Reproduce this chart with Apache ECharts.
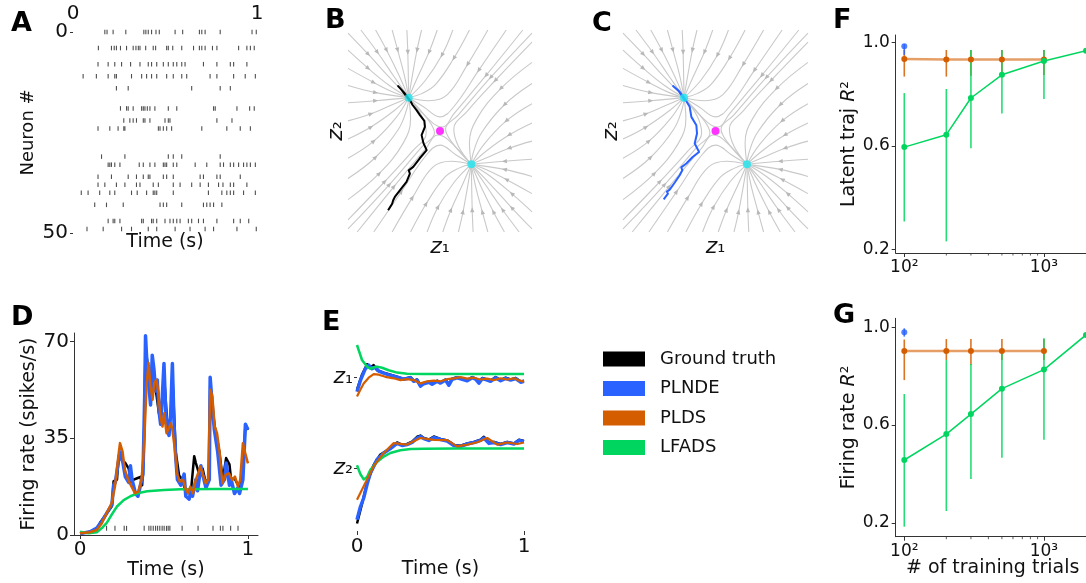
<!DOCTYPE html>
<html>
<head>
<meta charset="utf-8">
<script src="https://cdn.jsdelivr.net/npm/echarts@6/dist/echarts.min.js"></script>
<style>
  html, body { margin: 0; padding: 0; background: #fff; }
  #chart { width: 1086px; height: 583px; }
</style>
</head>
<body>
<div id="chart"></div>
<script>
const FONT = 'DejaVu Sans';
const BLACK = '#000000', BLUE = '#2962ff', ORANGE = '#d45d00', GREEN = '#00d65f';

// ---- A: spike raster
const rasterNeurons = [0, 4, 8, 11, 14, 19, 22, 24, 31, 33, 36, 38, 40, 43, 47, 49];
const rasterTimes = [
  [.173,.185,.218,.287,.385,.396,.409,.427,.451,.469,.555,.596,.687,.7,.718,.8,.973,.996],
  [.138,.209,.224,.236,.258,.291,.327,.342,.355,.364,.395,.436,.449,.509,.518,.542,.591,.655,.687,.7,.718,.758,.782,.9,.945,.964,.985],
  [.136,.191,.227,.264,.313,.364,.409,.427,.455,.491,.518,.545,.564,.591,.609,.709,.782,.855,.873,.945],
  [.055,.127,.191,.227,.236,.318,.373,.4,.427,.455,.509,.545,.591,.618,.745,.782,.873,.936,.991],
  [.236,.3,.645,.8,.855],
  [.258,.291,.3,.327,.373,.382,.391,.404,.418,.445,.518,.564,.764,.773,.891,.96,.985],
  [.276,.309,.327,.345,.382,.391,.418,.5,.518,.527,.782,.864],
  [.136,.2,.245,.276,.282,.464,.473,.491,.509,.536,.7,.836,.909,.964],
  [.155,.282,.518,.545,.591,.8],
  [.191,.2,.209,.227,.255,.36,.382,.418,.445,.491,.5,.509,.545,.564,.664,.727,.8,.818,.855,.873,.9,.927,.945,.964,.991],
  [.136,.209,.3,.345,.382,.409,.418,.491,.509,.545,.691,.709,.782,.8,.909],
  [.136,.173,.236,.282,.345,.364,.436,.464,.545,.582,.645,.691,.736,.791,.815,.855,.873,.945],
  [.045,.082,.145,.2,.227,.318,.349,.4,.436,.445,.455,.545,.736,.809,.836,.855,.873,.927,.991],
  [.118,.182,.273,.473,.491,.509,.591,.709,.727,.745,.764,.809],
  [.191,.218,.227,.255,.373,.382,.427,.436,.455,.5,.527,.545,.564,.582,.627,.645,.682,.709,.782,.873,.909,.955],
  [.076,.164,.264,.318,.409,.455,.555,.636,.718,.764,.891,.996]
];

// ---- B / C: phase portrait (streamlines)
const streamsToUpper = [
  [[-1,0.97],[-0.78,0.76],[-0.55,0.53],[-0.34,0.33]],
  [[-0.86,1],[-0.68,0.78],[-0.5,0.54],[-0.34,0.33]],
  [[-0.7,1],[-0.58,0.8],[-0.45,0.56],[-0.34,0.33]],
  [[-0.52,1],[-0.46,0.8],[-0.39,0.56],[-0.34,0.33]],
  [[-0.36,1],[-0.35,0.78],[-0.34,0.33]],
  [[-0.2,1],[-0.25,0.8],[-0.3,0.55],[-0.34,0.33]],
  [[-0.03,1],[-0.12,0.78],[-0.25,0.52],[-0.34,0.33]],
  [[0.14,1],[0.02,0.75],[-0.16,0.5],[-0.34,0.33]],
  [[0.32,1],[0.15,0.72],[-0.05,0.46],[-0.2,0.37],[-0.34,0.33]],
  [[0.52,1],[0.3,0.66],[0.08,0.36],[-0.12,0.3],[-0.34,0.33]],
  [[0.72,1],[0.42,0.6],[0.15,0.24],[0,0.14],[-0.18,0.24],[-0.34,0.33]],
  [[0.9,1],[0.5,0.55],[0.15,0.17],[0.03,0.04],[-0.08,0.08],[-0.34,0.33]],
  [[-1,0.8],[-0.78,0.62],[-0.55,0.45],[-0.34,0.33]],
  [[-1,0.62],[-0.72,0.48],[-0.5,0.38],[-0.34,0.33]],
  [[-1,0.45],[-0.7,0.38],[-0.34,0.33]],
  [[-1,0.28],[-0.7,0.3],[-0.34,0.33]],
  [[-1,0.1],[-0.75,0.17],[-0.52,0.26],[-0.34,0.33]],
  [[-1,-0.08],[-0.75,0.04],[-0.5,0.2],[-0.34,0.33]],
  [[-1,-0.27],[-0.72,-0.1],[-0.48,0.13],[-0.34,0.33]],
  [[-1,-0.47],[-0.7,-0.26],[-0.45,0.02],[-0.36,0.22],[-0.34,0.33]],
  [[-1,-0.68],[-0.66,-0.42],[-0.4,-0.12],[-0.32,0.12],[-0.34,0.33]],
  [[-1,-0.88],[-0.6,-0.5],[-0.3,-0.2],[-0.15,-0.02],[-0.2,0.15],[-0.34,0.33]],
  [[-1,-0.97],[-0.55,-0.53],[-0.2,-0.16],[-0.06,-0.02],[-0.12,0.1],[-0.34,0.33]]
];
const streamsToLower = [
  [[1,-0.97],[0.78,-0.76],[0.55,-0.53],[0.34,-0.33]],
  [[0.86,-1],[0.68,-0.78],[0.5,-0.54],[0.34,-0.33]],
  [[0.7,-1],[0.58,-0.8],[0.45,-0.56],[0.34,-0.33]],
  [[0.52,-1],[0.46,-0.8],[0.39,-0.56],[0.34,-0.33]],
  [[0.36,-1],[0.35,-0.78],[0.34,-0.33]],
  [[0.2,-1],[0.25,-0.8],[0.3,-0.55],[0.34,-0.33]],
  [[0.03,-1],[0.12,-0.78],[0.25,-0.52],[0.34,-0.33]],
  [[-0.14,-1],[-0.02,-0.75],[0.16,-0.5],[0.34,-0.33]],
  [[-0.32,-1],[-0.15,-0.72],[0.05,-0.46],[0.2,-0.37],[0.34,-0.33]],
  [[-0.52,-1],[-0.3,-0.66],[-0.08,-0.36],[0.12,-0.3],[0.34,-0.33]],
  [[-0.72,-1],[-0.42,-0.6],[-0.15,-0.24],[0,-0.14],[0.18,-0.24],[0.34,-0.33]],
  [[-0.9,-1],[-0.5,-0.55],[-0.15,-0.17],[-0.03,-0.04],[0.08,-0.08],[0.34,-0.33]],
  [[1,-0.8],[0.78,-0.62],[0.55,-0.45],[0.34,-0.33]],
  [[1,-0.62],[0.72,-0.48],[0.5,-0.38],[0.34,-0.33]],
  [[1,-0.45],[0.7,-0.38],[0.34,-0.33]],
  [[1,-0.28],[0.7,-0.3],[0.34,-0.33]],
  [[1,-0.1],[0.75,-0.17],[0.52,-0.26],[0.34,-0.33]],
  [[1,0.08],[0.75,-0.04],[0.5,-0.2],[0.34,-0.33]],
  [[1,0.27],[0.72,0.1],[0.48,-0.13],[0.34,-0.33]],
  [[1,0.47],[0.7,0.26],[0.45,-0.02],[0.36,-0.22],[0.34,-0.33]],
  [[1,0.68],[0.66,0.42],[0.4,0.12],[0.32,-0.12],[0.34,-0.33]],
  [[1,0.88],[0.6,0.5],[0.3,0.2],[0.15,0.02],[0.2,-0.15],[0.34,-0.33]],
  [[1,0.97],[0.55,0.53],[0.2,0.16],[0.06,0.02],[0.12,-0.1],[0.34,-0.33]]
];
const stablePoints = [[-0.34, 0.33], [0.34, -0.33]];
const saddlePoints = [[0, 0]];
const trajTruth = [[-0.564,-0.785],[-0.52,-0.72],[-0.509,-0.686],[-0.53,-0.67],[-0.491,-0.653],[-0.43,-0.58],[-0.364,-0.504],[-0.327,-0.421],[-0.34,-0.39],[-0.291,-0.355],[-0.22,-0.27],[-0.145,-0.19],[-0.18,-0.12],[-0.2,-0.041],[-0.164,0.041],[-0.17,0.1],[-0.22,0.16],[-0.255,0.207],[-0.3,0.26],[-0.327,0.306],[-0.39,0.38],[-0.455,0.445],[-0.42,0.41],[-0.33,0.3]];
const trajPlnde = [[-0.56,-0.676],[-0.53,-0.64],[-0.514,-0.62],[-0.525,-0.6],[-0.495,-0.58],[-0.44,-0.51],[-0.387,-0.438],[-0.359,-0.388],[-0.37,-0.36],[-0.315,-0.322],[-0.25,-0.26],[-0.178,-0.207],[-0.225,-0.124],[-0.2,-0.025],[-0.207,0.058],[-0.261,0.14],[-0.279,0.24],[-0.333,0.322],[-0.387,0.388],[-0.459,0.445],[-0.4,0.4],[-0.33,0.3]];

// ---- D: firing rate of one neuron
const rateTruth = [[0,0.5],[0.06,1.2],[0.1,2],[0.12,4.5],[0.15,7],[0.19,10.5],[0.2,19.5],[0.22,20],[0.23,28.5],[0.25,27],[0.27,26],[0.29,24],[0.3,19],[0.32,20],[0.34,20.5],[0.36,21],[0.37,18],[0.38,30],[0.39,68],[0.41,58],[0.42,50],[0.43,62],[0.45,53],[0.47,44],[0.49,48],[0.5,58],[0.52,40],[0.54,42],[0.55,58],[0.57,30],[0.59,21.5],[0.61,20],[0.63,15],[0.66,15.5],[0.68,28.5],[0.69,26],[0.71,22],[0.73,24],[0.75,18.5],[0.77,21],[0.775,54],[0.8,40],[0.83,30],[0.85,20],[0.87,27.8],[0.89,25.5],[0.9,20],[0.92,20.5],[0.95,17],[0.97,22],[0.985,39.8],[1,38]];
const ratePlnde = [[0,0.5],[0.06,1.2],[0.1,2.5],[0.13,5],[0.16,8],[0.19,11],[0.2,18],[0.21,19],[0.23,27],[0.24,30],[0.25,28],[0.27,21],[0.29,19],[0.3,25],[0.31,20],[0.33,15],[0.345,14],[0.36,18],[0.375,22],[0.385,50],[0.39,72],[0.4,60],[0.41,54],[0.42,47],[0.425,55],[0.43,65],[0.44,60],[0.45,52],[0.46,56],[0.47,45],[0.48,40],[0.49,50],[0.5,62],[0.51,45],[0.52,38],[0.53,36],[0.54,44],[0.55,62],[0.56,40],[0.57,28],[0.58,20],[0.6,18],[0.62,22],[0.63,14],[0.65,13],[0.66,16],[0.67,14],[0.69,20],[0.7,16],[0.72,25],[0.73,22],[0.75,17],[0.77,20],[0.775,57],[0.79,45],[0.8,38],[0.82,30],[0.84,18],[0.86,20],[0.87,26],[0.89,18],[0.9,20],[0.92,15],[0.94,17],[0.95,15],[0.97,20],[0.985,40],[1,38]];
const ratePlds = [[0,0.6],[0.059,1],[0.099,1.8],[0.129,4.2],[0.158,7.8],[0.188,11.5],[0.208,17.5],[0.228,28.4],[0.238,33.2],[0.253,30.2],[0.267,23.5],[0.287,19.9],[0.307,17.5],[0.327,15.1],[0.347,15.7],[0.366,19.9],[0.376,27.2],[0.386,39.2],[0.396,53.7],[0.408,62.2],[0.42,53.7],[0.432,48.9],[0.442,54.9],[0.455,56.1],[0.467,51.3],[0.479,42.8],[0.491,39.2],[0.501,44],[0.515,36.8],[0.529,38.6],[0.541,40.4],[0.55,38],[0.564,31.4],[0.578,22.3],[0.594,19.3],[0.614,19.9],[0.63,16.3],[0.644,15.1],[0.657,17.5],[0.673,15.1],[0.689,19.9],[0.703,22.3],[0.717,24.7],[0.729,22.3],[0.749,18.7],[0.762,19.9],[0.776,52.5],[0.788,50.1],[0.802,39.2],[0.816,36.8],[0.832,29.6],[0.848,18.7],[0.867,21.7],[0.887,22.3],[0.907,19.9],[0.923,21.1],[0.941,17.5],[0.954,19.9],[0.97,33.2],[0.984,29.6],[1,25.9]];
const rateLfads = [[0,1.2],[0.05,0.6],[0.1,1],[0.13,2.5],[0.16,4.5],[0.19,7.5],[0.22,10.3],[0.26,12.6],[0.3,14],[0.35,15.2],[0.4,15.8],[0.5,16.3],[0.6,16.5],[0.8,16.6],[1,16.6]];
const neuronSpikeTimes = [.158,.208,.263,.277,.382,.41,.422,.436,.45,.462,.475,.489,.501,.515,.525,.535,.608,.703,.792,.836,.851,.897,.941];

// ---- E: latent trajectories
const z1Truth = [[0,-0.4],[0.03,0.1],[0.06,0.45],[0.08,0.35],[0.1,0.42],[0.12,0.25],[0.16,0.17],[0.2,0.1],[0.24,0.03],[0.28,-0.04],[0.32,0.02],[0.34,-0.1],[0.36,-0.06],[0.38,-0.26],[0.4,-0.18],[0.43,-0.13],[0.45,-0.2],[0.48,-0.1],[0.5,-0.16],[0.53,-0.06],[0.55,-0.22],[0.57,-0.03],[0.6,0.02],[0.63,-0.03],[0.66,-0.08],[0.69,0.02],[0.71,-0.03],[0.73,-0.16],[0.75,-0.01],[0.78,-0.06],[0.8,-0.1],[0.83,0.02],[0.86,-0.08],[0.89,0],[0.92,-0.06],[0.95,-0.01],[0.98,-0.13],[1,-0.1]];
const z1Plnde = [[0,-0.47],[0.02,-0.1],[0.05,0.3],[0.07,0.42],[0.09,0.3],[0.11,0.35],[0.13,0.22],[0.16,0.15],[0.2,0.08],[0.24,0.02],[0.28,-0.05],[0.32,0],[0.34,-0.12],[0.36,-0.08],[0.38,-0.28],[0.4,-0.2],[0.43,-0.15],[0.45,-0.22],[0.48,-0.12],[0.5,-0.18],[0.53,-0.08],[0.55,-0.25],[0.57,-0.05],[0.6,0],[0.63,-0.05],[0.66,-0.1],[0.69,0],[0.71,-0.05],[0.73,-0.18],[0.75,-0.03],[0.78,-0.08],[0.8,-0.12],[0.83,0],[0.86,-0.1],[0.89,-0.02],[0.92,-0.08],[0.95,-0.03],[0.98,-0.15],[1,-0.12]];
const z1Plds = [[0,-0.63],[0.02,-0.4],[0.04,-0.19],[0.07,0],[0.1,0.12],[0.13,0.1],[0.17,0.03],[0.22,-0.02],[0.26,-0.08],[0.3,-0.05],[0.34,-0.08],[0.38,-0.19],[0.42,-0.12],[0.46,-0.1],[0.5,-0.12],[0.54,-0.05],[0.58,-0.02],[0.62,0.02],[0.66,-0.03],[0.7,0],[0.74,-0.06],[0.78,-0.03],[0.82,-0.08],[0.86,-0.02],[0.9,-0.06],[0.94,-0.02],[0.97,-0.09],[1,-0.13]];
const z1Lfads = [[0,1.09],[0.03,0.59],[0.06,0.37],[0.08,0.3],[0.1,0.34],[0.12,0.37],[0.15,0.33],[0.19,0.25],[0.24,0.17],[0.3,0.13],[0.4,0.12],[0.6,0.12],[1,0.12]];
const z2Truth = [[0,-1.85],[0.03,-1.2],[0.06,-0.5],[0.1,0.1],[0.14,0.45],[0.2,0.65],[0.24,0.85],[0.27,0.77],[0.3,0.8],[0.33,0.88],[0.36,1.04],[0.38,1.08],[0.4,1],[0.43,0.95],[0.46,1.05],[0.5,0.97],[0.54,0.92],[0.58,0.77],[0.62,0.74],[0.66,0.82],[0.7,0.87],[0.74,0.94],[0.76,1.04],[0.79,0.84],[0.82,0.87],[0.86,0.8],[0.9,0.87],[0.94,0.82],[0.97,0.94],[1,0.9]];
const z2Plnde = [[0,-1.72],[0.02,-1.3],[0.04,-1],[0.06,-0.55],[0.08,-0.17],[0.12,0.28],[0.16,0.5],[0.2,0.65],[0.24,0.82],[0.27,0.75],[0.3,0.78],[0.33,0.85],[0.36,1],[0.38,1.05],[0.4,0.98],[0.43,0.92],[0.46,1.02],[0.5,0.95],[0.54,0.9],[0.58,0.75],[0.62,0.72],[0.66,0.8],[0.7,0.85],[0.74,0.92],[0.76,1],[0.79,0.82],[0.82,0.85],[0.86,0.78],[0.9,0.85],[0.94,0.8],[0.97,0.92],[1,0.88]];
const z2Plds = [[0,-1.06],[0.04,-0.61],[0.1,0.06],[0.16,0.5],[0.22,0.83],[0.3,0.78],[0.38,1],[0.46,0.94],[0.54,0.93],[0.6,0.72],[0.66,0.78],[0.72,0.86],[0.78,1],[0.84,0.78],[0.9,0.85],[0.96,0.8],[1,0.85]];
const z2Lfads = [[0,0.09],[0.02,-0.2],[0.04,-0.38],[0.06,-0.3],[0.08,-0.06],[0.12,0.2],[0.16,0.38],[0.2,0.5],[0.26,0.59],[0.32,0.63],[0.4,0.64],[0.6,0.65],[1,0.65]];

// ---- F / G: R^2 vs number of training trials
const trials = [100, 200, 300, 500, 1000];
const lfadsTrials = [100, 200, 300, 500, 1000, 2000];
const minorTrials = [200, 300, 400, 500, 600, 700, 800, 900];
const latentPlds = [0.937, 0.935, 0.935, 0.935, 0.935];
const latentPldsLo = [0.869, 0.869, 0.872, 0.875, 0.875];
const latentPldsHi = [0.972, 0.972, 0.972, 0.972, 0.972];
const latentPlnde = [0.986], latentPlndeLo = [0.953], latentPlndeHi = [0.995];
const latentLfads = [0.596, 0.644, 0.786, 0.876, 0.929, 0.969];
const latentLfadsLo = [0.308, 0.231, 0.592, 0.726, 0.782];
const latentLfadsHi = [0.805, 0.821, 0.972, 0.972, 0.972];
const ratePldsR2 = [0.903, 0.903, 0.903, 0.903, 0.903];
const ratePldsLo = [0.784, 0.866, 0.846, 0.866, 0.866];
const ratePldsHi = [0.95, 0.952, 0.952, 0.952, 0.952];
const ratePlndeR2 = [0.98], ratePlndeLo = [0.962], ratePlndeHi = [0.996];
const rateLfadsR2 = [0.457, 0.563, 0.645, 0.749, 0.827, 0.969];
const rateLfadsLo = [0.184, 0.248, 0.379, 0.466, 0.54];
const rateLfadsHi = [0.727, 0.866, 0.85, 0.907, 0.955];

const chart = echarts.init(document.getElementById('chart'));

const tickText = { color: '#111', fontFamily: FONT, fontSize: 20 };
const smallTick = { color: '#111', fontFamily: FONT, fontSize: 17 };
const nameText = { color: '#111', fontFamily: FONT, fontSize: 19 };
const zRich = { z: { fontFamily: FONT, fontSize: 22, fontStyle: 'italic', color: '#111' },
                n: { fontFamily: FONT, fontSize: 20, color: '#111' } };
const spine = { onZero: false, lineStyle: { color: '#333', width: 1 } };
const noAxis = { axisLine: { show: false, onZero: false }, axisTick: { show: false }, axisLabel: { show: false }, splitLine: { show: false } };

function pairs(xs, ys) { return ys.map((y, i) => [xs[i], y]); }
function triples(xs, lo, hi) { return lo.map((l, i) => [xs[i], l, hi[i]]); }

function lineSeries(name, data, color, width, xi, yi, z) {
  return { name: name, type: 'line', xAxisIndex: xi, yAxisIndex: yi, data: data,
    showSymbol: false, symbol: 'none', z: z, color: color,
    lineStyle: { color: color, width: width, join: 'round' } };
}

function streamSeries(lines, xi, yi) {
  return lines.map(pts => ({ type: 'line', xAxisIndex: xi, yAxisIndex: yi, data: pts,
    smooth: 0.4, showSymbol: false, symbol: 'none', silent: true, z: 1,
    lineStyle: { color: '#c9c9c9', width: 1.1 } }));
}

// small arrowhead on each streamline, at its second point, along the local direction
function arrowSeries(lines, xi, yi) {
  return { type: 'custom', xAxisIndex: xi, yAxisIndex: yi, silent: true, z: 2,
    data: lines.map(p => [p[1][0], p[1][1], p[0][0], p[0][1], p[2][0], p[2][1]]),
    encode: { x: 0, y: 1 },
    renderItem: function (params, api) {
      const p = api.coord([api.value(0), api.value(1)]);
      const a = api.coord([api.value(2), api.value(3)]);
      const b = api.coord([api.value(4), api.value(5)]);
      const ang = Math.atan2(b[1] - a[1], b[0] - a[0]);
      const c = Math.cos(ang), s = Math.sin(ang), L = 5, W = 2.2;
      return { type: 'polygon', shape: { points: [
          [p[0] + c * L / 2, p[1] + s * L / 2],
          [p[0] - c * L / 2 - s * W, p[1] - s * L / 2 + c * W],
          [p[0] - c * L / 2 + s * W, p[1] - s * L / 2 - c * W]] },
        style: { fill: '#b8b8b8' } };
    } };
}

function errSeries(data, color, xi, yi) {
  return { type: 'custom', xAxisIndex: xi, yAxisIndex: yi, data: data, z: 2, silent: true,
    encode: { x: 0, y: [1, 2] },
    renderItem: function (params, api) {
      const a = api.coord([api.value(0), api.value(1)]);
      const b = api.coord([api.value(0), api.value(2)]);
      return { type: 'line', shape: { x1: a[0], y1: a[1], x2: b[0], y2: b[1] },
        style: { stroke: color, lineWidth: 1.6, opacity: 0.85 } };
    } };
}

function minorTickSeries(xi, yi) {
  return { type: 'custom', xAxisIndex: xi, yAxisIndex: yi, clip: false, silent: true,
    data: minorTrials.map(v => [v, 0.5]), encode: { x: 0, y: 1 },
    renderItem: function (params, api) {
      const x = api.coord([api.value(0), api.value(1)])[0];
      const y = params.coordSys.y + params.coordSys.height;
      return { type: 'line', shape: { x1: x, y1: y, x2: x, y2: y + 2.5 },
        style: { stroke: '#333', lineWidth: 0.8 } };
    } };
}

const rasterData = [];
rasterTimes.forEach((ts, i) => ts.forEach(t => rasterData.push([t, rasterNeurons[i]])));

function r2Axis(grid, min, max, label) {
  return { gridIndex: grid, type: 'value', min: min, max: max,
    axisLine: { show: true, onZero: false, lineStyle: { color: '#333', width: 1 } },
    axisTick: { show: true, length: 4, customValues: [0.2, 0.6, 1.0], lineStyle: { color: '#333' } },
    axisLabel: Object.assign({}, smallTick, { customValues: [0.2, 0.6, 1.0], margin: 6,
      formatter: v => v.toFixed(1) }),
    splitLine: { show: false },
    name: label, nameLocation: 'middle', nameGap: 32, nameRotate: 90,
    nameTextStyle: Object.assign({}, nameText, {
      rich: { r: { fontFamily: FONT, fontSize: 19, fontStyle: 'italic', color: '#111' } } }) };
}

function trialsAxis(grid) {
  return { gridIndex: grid, type: 'log', logBase: 10, min: 86.8, max: 2000,
    axisLine: { show: true, onZero: false, lineStyle: { color: '#333', width: 1 } },
    axisTick: { show: true, length: 4, customValues: [100, 1000], lineStyle: { color: '#333' } },
    axisLabel: Object.assign({}, smallTick, { customValues: [100, 1000], margin: 6,
      formatter: v => (v < 500 ? '10²' : '10³') }),
    splitLine: { show: false }, minorTick: { show: false } };
}

const option = {
  animation: false,
  backgroundColor: '#fff',
  textStyle: { fontFamily: FONT },
  legend: {
    data: ['Ground truth', 'PLNDE', 'PLDS', 'LFADS'],
    orient: 'vertical', left: 603, top: 350, padding: 0,
    itemWidth: 42, itemHeight: 15, itemGap: 11.5, icon: 'rect',
    selectedMode: false,
    textStyle: { fontFamily: FONT, fontSize: 18, color: '#111', padding: [0, 0, 0, 10] }
  },
  grid: [
    { left: 73, top: 32, width: 184, height: 201 },
    { left: 348, top: 30, width: 184, height: 202 },
    { left: 623, top: 30, width: 185, height: 202 },
    { left: 74, top: 333, width: 184, height: 202 },
    { left: 357, top: 335.7, width: 167, height: 84 },
    { left: 357, top: 426, width: 167, height: 105 },
    { left: 895.7, top: 35, width: 190.3, height: 218 },
    { left: 895.7, top: 318.3, width: 190.3, height: 218.4 }
  ],
  xAxis: [
    { gridIndex: 0, type: 'value', position: 'top', min: 0, max: 1, interval: 1,
      axisLine: { show: false, onZero: false }, axisTick: { show: false }, splitLine: { show: false },
      axisLabel: Object.assign({}, tickText, { margin: 8 }) },
    Object.assign({ gridIndex: 0, type: 'value', position: 'bottom', min: 0, max: 1,
      name: 'Time (s)', nameLocation: 'middle', nameGap: 0, nameTextStyle: nameText }, noAxis),
    Object.assign({ gridIndex: 1, type: 'value', min: -1, max: 1,
      name: '{z|z}{n|₁}', nameLocation: 'middle', nameGap: 4,
      nameTextStyle: { rich: zRich } }, noAxis),
    Object.assign({ gridIndex: 2, type: 'value', min: -1, max: 1,
      name: '{z|z}{n|₁}', nameLocation: 'middle', nameGap: 4,
      nameTextStyle: { rich: zRich } }, noAxis),
    { gridIndex: 3, type: 'value', min: -0.036, max: 1.06,
      axisLine: spine, splitLine: { show: false },
      axisTick: { show: true, length: 4, customValues: [0, 1], lineStyle: { color: '#333' } },
      axisLabel: Object.assign({}, tickText, { customValues: [0, 1], margin: 5 }),
      name: 'Time (s)', nameLocation: 'middle', nameGap: 22, nameTextStyle: nameText },
    Object.assign({ gridIndex: 4, type: 'value', min: 0, max: 1 }, noAxis),
    { gridIndex: 5, type: 'value', min: 0, max: 1,
      axisLine: { show: false, onZero: false }, splitLine: { show: false },
      axisTick: { show: true, length: 4, customValues: [0, 1], lineStyle: { color: '#333' } },
      axisLabel: Object.assign({}, tickText, { customValues: [0, 1], margin: 6 }),
      name: 'Time (s)', nameLocation: 'middle', nameGap: 29, nameTextStyle: nameText },
    trialsAxis(6),
    trialsAxis(7)
  ],
  yAxis: [
    { gridIndex: 0, type: 'value', inverse: true, min: 0, max: 50, interval: 50,
      axisLine: { show: false, onZero: false }, splitLine: { show: false },
      axisTick: { show: true, length: 3, lineStyle: { color: '#333' } },
      axisLabel: Object.assign({}, tickText, { margin: 5 }),
      name: 'Neuron #', nameLocation: 'middle', nameGap: 36, nameRotate: 90,
      nameTextStyle: Object.assign({}, nameText, { fontSize: 18 }) },
    Object.assign({ gridIndex: 1, type: 'value', min: -1, max: 1,
      name: '{z|z}{n|₂}', nameLocation: 'middle', nameGap: 1, nameRotate: 90,
      nameTextStyle: { rich: zRich } }, noAxis),
    Object.assign({ gridIndex: 2, type: 'value', min: -1, max: 1,
      name: '{z|z}{n|₂}', nameLocation: 'middle', nameGap: 1, nameRotate: 90,
      nameTextStyle: { rich: zRich } }, noAxis),
    { gridIndex: 3, type: 'value', min: 0, max: 73,
      axisLine: { show: true, onZero: false, lineStyle: { color: '#333', width: 1 } }, splitLine: { show: false },
      axisTick: { show: true, length: 4, customValues: [0, 35, 70], lineStyle: { color: '#333' } },
      axisLabel: Object.assign({}, tickText, { customValues: [0, 35, 70], margin: 5 }),
      name: 'Firing rate (spikes/s)', nameLocation: 'middle', nameGap: 35, nameRotate: 90,
      nameTextStyle: nameText },
    { gridIndex: 4, type: 'value', min: -1.4, max: 1.4,
      axisLine: { show: false, onZero: false }, splitLine: { show: false },
      axisTick: { show: true, length: 3, customValues: [0], lineStyle: { color: '#333' } },
      axisLabel: { customValues: [0], margin: 4, formatter: () => '{z|z}{n|₁}', rich: zRich } },
    { gridIndex: 5, type: 'value', min: -2.1, max: 1.4,
      axisLine: { show: false, onZero: false }, splitLine: { show: false },
      axisTick: { show: true, length: 3, customValues: [0], lineStyle: { color: '#333' } },
      axisLabel: { customValues: [0], margin: 4, formatter: () => '{z|z}{n|₂}', rich: zRich } },
    r2Axis(6, 0.186, 1.03, 'Latent traj {r|R}²'),
    r2Axis(7, 0.143, 1.037, 'Firing rate {r|R}²')
  ],
  graphic: [
    ['A', 11, 10], ['B', 325, 7], ['C', 592, 10], ['D', 11, 304],
    ['E', 322, 309], ['F', 833, 7], ['G', 833, 302]
  ].map(p => ({ type: 'text', left: p[1], top: p[2], z: 100,
    style: { text: p[0], fill: '#000', font: 'bold 27px "DejaVu Sans"' } }))
  .concat([{ type: 'text', left: 906, top: 559, z: 100,
    style: { text: '# of training trials', fill: '#111', font: '19px "DejaVu Sans"' } }]),
  series: [].concat(
    [{ type: 'scatter', xAxisIndex: 0, yAxisIndex: 0, data: rasterData, symbol: 'rect',
       symbolSize: [1.1, 4.5], itemStyle: { color: '#222' }, silent: true }],
    streamSeries(streamsToUpper, 2, 1), streamSeries(streamsToLower, 2, 1),
    streamSeries(streamsToUpper, 3, 2), streamSeries(streamsToLower, 3, 2),
    [
      arrowSeries(streamsToUpper, 2, 1), arrowSeries(streamsToLower, 2, 1),
      arrowSeries(streamsToUpper, 3, 2), arrowSeries(streamsToLower, 3, 2),
      Object.assign(lineSeries(null, trajTruth, BLACK, 2, 2, 1, 5), { name: undefined }),
      Object.assign(lineSeries(null, trajPlnde, BLUE, 2, 3, 2, 5), { name: undefined }),
      { type: 'scatter', xAxisIndex: 2, yAxisIndex: 1, data: stablePoints, symbolSize: 8, z: 6, itemStyle: { color: '#1ee6f0' } },
      { type: 'scatter', xAxisIndex: 2, yAxisIndex: 1, data: saddlePoints, symbolSize: 8, z: 6, itemStyle: { color: '#ff00ff' } },
      { type: 'scatter', xAxisIndex: 3, yAxisIndex: 2, data: stablePoints, symbolSize: 8, z: 6, itemStyle: { color: '#1ee6f0' } },
      { type: 'scatter', xAxisIndex: 3, yAxisIndex: 2, data: saddlePoints, symbolSize: 8, z: 6, itemStyle: { color: '#ff00ff' } },

      lineSeries('Ground truth', rateTruth, BLACK, 2.5, 4, 3, 2),
      lineSeries('PLNDE', ratePlnde, BLUE, 3.5, 4, 3, 3),
      lineSeries('LFADS', rateLfads, GREEN, 2.5, 4, 3, 4),
      lineSeries('PLDS', ratePlds, ORANGE, 2.5, 4, 3, 5),
      { type: 'scatter', xAxisIndex: 4, yAxisIndex: 3, data: neuronSpikeTimes.map(t => [t, 2.4]),
        symbol: 'rect', symbolSize: [1.1, 5], itemStyle: { color: '#222' }, silent: true },

      lineSeries('Ground truth', z1Truth, BLACK, 2.5, 5, 4, 2),
      lineSeries('PLNDE', z1Plnde, BLUE, 3.5, 5, 4, 3),
      lineSeries('PLDS', z1Plds, ORANGE, 2.2, 5, 4, 5),
      lineSeries('LFADS', z1Lfads, GREEN, 2.5, 5, 4, 4),
      lineSeries('Ground truth', z2Truth, BLACK, 2.5, 6, 5, 2),
      lineSeries('PLNDE', z2Plnde, BLUE, 3.5, 6, 5, 3),
      lineSeries('PLDS', z2Plds, ORANGE, 2.2, 6, 5, 5),
      lineSeries('LFADS', z2Lfads, GREEN, 2.5, 6, 5, 4),

      errSeries(triples(trials, latentPldsLo, latentPldsHi), ORANGE, 7, 6),
      errSeries(triples(trials, latentLfadsLo, latentLfadsHi), GREEN, 7, 6),
      errSeries(triples([100], latentPlndeLo, latentPlndeHi), BLUE, 7, 6),
      { type: 'line', xAxisIndex: 7, yAxisIndex: 6, data: pairs(trials, latentPlds), symbol: 'circle',
        symbolSize: 6, z: 3, itemStyle: { color: ORANGE }, lineStyle: { color: ORANGE, width: 2.5, opacity: 0.6 } },
      { type: 'line', xAxisIndex: 7, yAxisIndex: 6, data: pairs(lfadsTrials, latentLfads), symbol: 'circle',
        symbolSize: 6, z: 4, itemStyle: { color: GREEN }, lineStyle: { color: GREEN, width: 1.5 } },
      { type: 'scatter', xAxisIndex: 7, yAxisIndex: 6, data: pairs([100], latentPlnde), symbolSize: 6, z: 4,
        itemStyle: { color: BLUE } },
      minorTickSeries(7, 6),

      errSeries(triples(trials, ratePldsLo, ratePldsHi), ORANGE, 8, 7),
      errSeries(triples(trials, rateLfadsLo, rateLfadsHi), GREEN, 8, 7),
      errSeries(triples([100], ratePlndeLo, ratePlndeHi), BLUE, 8, 7),
      { type: 'line', xAxisIndex: 8, yAxisIndex: 7, data: pairs(trials, ratePldsR2), symbol: 'circle',
        symbolSize: 6, z: 3, itemStyle: { color: ORANGE }, lineStyle: { color: ORANGE, width: 2.5, opacity: 0.6 } },
      { type: 'line', xAxisIndex: 8, yAxisIndex: 7, data: pairs(lfadsTrials, rateLfadsR2), symbol: 'circle',
        symbolSize: 6, z: 4, itemStyle: { color: GREEN }, lineStyle: { color: GREEN, width: 1.5 } },
      { type: 'scatter', xAxisIndex: 8, yAxisIndex: 7, data: pairs([100], ratePlndeR2), symbolSize: 6, z: 4,
        itemStyle: { color: BLUE } },
      minorTickSeries(8, 7)
    ]
  )
};

chart.setOption(option);
</script>
</body>
</html>
